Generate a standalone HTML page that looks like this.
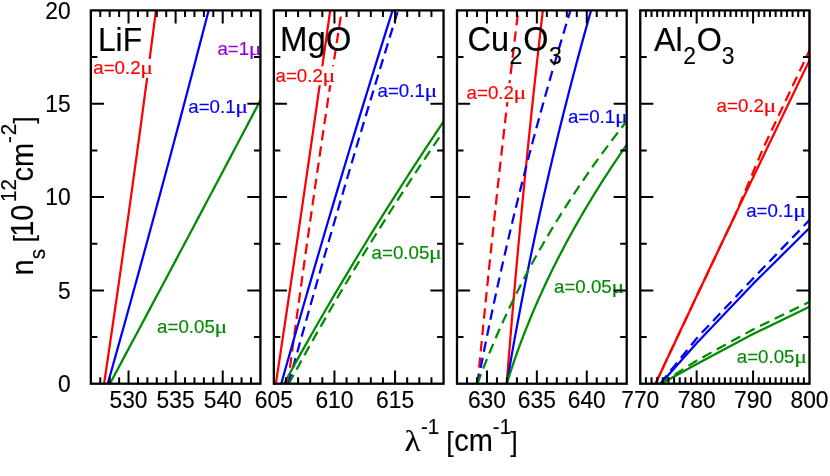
<!DOCTYPE html>
<html><head><meta charset="utf-8"><title>plot</title>
<style>
html,body{margin:0;padding:0;background:#fff;}
svg{display:block;will-change:transform;}
text{font-family:"Liberation Sans",sans-serif;}
.mu{font-family:"Liberation Serif",serif;}
</style></head><body>
<svg width="830" height="476" viewBox="0 0 830 476">
<defs>
<clipPath id="c0"><rect x="90.85" y="10.4" width="169.55" height="373.30"/></clipPath>
<clipPath id="c1"><rect x="273.85" y="10.4" width="169.70" height="373.30"/></clipPath>
<clipPath id="c2"><rect x="457.0" y="10.4" width="169.70" height="373.30"/></clipPath>
<clipPath id="c3"><rect x="640.25" y="10.4" width="169.25" height="373.30"/></clipPath>
</defs>
<g clip-path="url(#c0)" fill="none" stroke="#ff0000" stroke-width="2.25" stroke-linejoin="round">
<path d="M104.04,384.00 L105.48,374.28 L106.92,364.56 L108.36,354.85 L109.79,345.13 L111.21,335.41 L112.63,325.69 L114.04,315.97 L115.45,306.26 L116.86,296.54 L118.25,286.82 L119.65,277.10 L121.04,267.38 L122.42,257.67 L123.80,247.95 L125.18,238.23 L126.55,228.51 L127.91,218.79 L129.27,209.08 L130.62,199.36 L131.97,189.64 L133.32,179.92 L134.66,170.21 L135.99,160.49 L137.32,150.77 L138.65,141.05 L139.97,131.33 L141.28,121.62 L142.59,111.90 L143.90,102.18 L145.20,92.46 L146.49,82.74 L147.78,73.03 L149.07,63.31 L150.35,53.59 L151.63,43.87 L152.90,34.15 L154.16,24.44 L155.42,14.72 L156.68,5.00"/>
</g>
<rect x="92.8" y="58.9" width="60.8" height="18.9" fill="#fff"/>
<text transform="translate(93.3,74.3) scale(1,1.02)" font-size="18.7" fill="#ff0000" stroke="#ff0000" stroke-width="0.15">a=0.2</text>
<text class="mu" transform="translate(140.32,74.3) scale(1.22,1.0)" font-size="19.5" fill="#ff0000" stroke="#ff0000" stroke-width="0.15">μ</text>
<g clip-path="url(#c0)" fill="none" stroke="#0000ff" stroke-width="2.25" stroke-linejoin="round">
<path d="M107.69,384.00 L110.42,374.28 L113.15,364.56 L115.87,354.85 L118.58,345.13 L121.29,335.41 L124.00,325.69 L126.70,315.97 L129.39,306.26 L132.08,296.54 L134.76,286.82 L137.43,277.10 L140.10,267.38 L142.77,257.67 L145.42,247.95 L148.08,238.23 L150.72,228.51 L153.37,218.79 L156.00,209.08 L158.63,199.36 L161.25,189.64 L163.87,179.92 L166.49,170.21 L169.09,160.49 L171.69,150.77 L174.29,141.05 L176.88,131.33 L179.46,121.62 L182.04,111.90 L184.61,102.18 L187.18,92.46 L189.74,82.74 L192.30,73.03 L194.85,63.31 L197.39,53.59 L199.93,43.87 L202.46,34.15 L204.99,24.44 L207.51,14.72 L210.02,5.00"/>
</g>
<rect x="187.8" y="97.6" width="60.8" height="18.9" fill="#fff"/>
<text transform="translate(188.3,113.0) scale(1,1.02)" font-size="18.7" fill="#0000ff" stroke="#0000ff" stroke-width="0.15">a=0.1</text>
<text class="mu" transform="translate(235.32,113.0) scale(1.22,1.0)" font-size="19.5" fill="#0000ff" stroke="#0000ff" stroke-width="0.15">μ</text>
<g clip-path="url(#c0)" fill="none" stroke="#008b00" stroke-width="2.25" stroke-linejoin="round">
<path d="M109.77,384.00 L113.80,376.46 L117.84,368.92 L121.87,361.38 L125.89,353.85 L129.92,346.31 L133.95,338.77 L137.97,331.23 L141.99,323.69 L146.01,316.15 L150.03,308.62 L154.04,301.08 L158.06,293.54 L162.07,286.00 L166.08,278.46 L170.09,270.92 L174.10,263.38 L178.11,255.85 L182.11,248.31 L186.11,240.77 L190.11,233.23 L194.11,225.69 L198.11,218.15 L202.11,210.62 L206.10,203.08 L210.09,195.54 L214.09,188.00 L218.07,180.46 L222.06,172.92 L226.05,165.38 L230.03,157.85 L234.01,150.31 L238.00,142.77 L241.97,135.23 L245.95,127.69 L249.93,120.15 L253.90,112.62 L257.87,105.08 L261.84,97.54 L265.81,90.00"/>
</g>
<rect x="156.6" y="317.6" width="71.2" height="18.9" fill="#fff"/>
<text transform="translate(157.1,333) scale(1,1.02)" font-size="18.7" fill="#008b00" stroke="#008b00" stroke-width="0.15">a=0.05</text>
<text class="mu" transform="translate(214.52,333) scale(1.22,1.0)" font-size="19.5" fill="#008b00" stroke="#008b00" stroke-width="0.15">μ</text>
<rect x="216.9" y="39.5" width="45.2" height="18.9" fill="#fff"/>
<text transform="translate(217.4,54.9) scale(1,1.02)" font-size="18.7" fill="#9400d3" stroke="#9400d3" stroke-width="0.15">a=1</text>
<text class="mu" transform="translate(248.82,54.9) scale(1.22,1.0)" font-size="19.5" fill="#9400d3" stroke="#9400d3" stroke-width="0.15">μ</text>
<g clip-path="url(#c1)" fill="none" stroke="#ff0000" stroke-width="2.25" stroke-linejoin="round">
<path d="M275.80,384.00 L277.27,374.28 L278.74,364.56 L280.20,354.85 L281.67,345.13 L283.12,335.41 L284.58,325.69 L286.03,315.97 L287.48,306.26 L288.93,296.54 L290.37,286.82 L291.81,277.10 L293.25,267.38 L294.68,257.67 L296.12,247.95 L297.55,238.23 L298.97,228.51 L300.39,218.79 L301.81,209.08 L303.23,199.36 L304.65,189.64 L306.06,179.92 L307.46,170.21 L308.87,160.49 L310.27,150.77 L311.67,141.05 L313.07,131.33 L314.46,121.62 L315.85,111.90 L317.24,102.18 L318.62,92.46 L320.00,82.74 L321.38,73.03 L322.76,63.31 L324.13,53.59 L325.50,43.87 L326.87,34.15 L328.23,24.44 L329.59,14.72 L330.95,5.00"/>
<path d="M287.80,384.00 L289.08,374.28 L290.38,364.56 L291.68,354.85 L292.98,345.13 L294.29,335.41 L295.61,325.69 L296.94,315.97 L298.27,306.26 L299.60,296.54 L300.95,286.82 L302.29,277.10 L303.65,267.38 L305.01,257.67 L306.38,247.95 L307.75,238.23 L309.14,228.51 L310.52,218.79 L311.91,209.08 L313.31,199.36 L314.72,189.64 L316.13,179.92 L317.55,170.21 L318.97,160.49 L320.40,150.77 L321.84,141.05 L323.28,131.33 L324.73,121.62 L326.19,111.90 L327.65,102.18 L329.12,92.46 L330.59,82.74 L332.07,73.03 L333.56,63.31 L335.05,53.59 L336.55,43.87 L338.05,34.15 L339.57,24.44 L341.08,14.72 L342.61,5.00" stroke-dasharray="10.4,6.0"/>
</g>
<rect x="275.0" y="66.3" width="60.8" height="18.9" fill="#fff"/>
<text transform="translate(275.5,81.7) scale(1,1.02)" font-size="18.7" fill="#ff0000" stroke="#ff0000" stroke-width="0.15">a=0.2</text>
<text class="mu" transform="translate(322.52,81.7) scale(1.22,1.0)" font-size="19.5" fill="#ff0000" stroke="#ff0000" stroke-width="0.15">μ</text>
<g clip-path="url(#c1)" fill="none" stroke="#0000ff" stroke-width="2.25" stroke-linejoin="round">
<path d="M281.19,384.00 L283.93,374.28 L286.67,364.56 L289.42,354.85 L292.18,345.13 L294.94,335.41 L297.72,325.69 L300.51,315.97 L303.30,306.26 L306.10,296.54 L308.92,286.82 L311.74,277.10 L314.57,267.38 L317.40,257.67 L320.25,247.95 L323.11,238.23 L325.97,228.51 L328.85,218.79 L331.73,209.08 L334.62,199.36 L337.52,189.64 L340.43,179.92 L343.35,170.21 L346.27,160.49 L349.21,150.77 L352.15,141.05 L355.11,131.33 L358.07,121.62 L361.04,111.90 L364.02,102.18 L367.01,92.46 L370.00,82.74 L373.01,73.03 L376.03,63.31 L379.05,53.59 L382.08,43.87 L385.12,34.15 L388.17,24.44 L391.23,14.72 L394.30,5.00"/>
<path d="M288.49,384.00 L291.17,374.28 L293.86,364.56 L296.56,354.85 L299.27,345.13 L301.98,335.41 L304.71,325.69 L307.44,315.97 L310.19,306.26 L312.94,296.54 L315.70,286.82 L318.48,277.10 L321.26,267.38 L324.05,257.67 L326.84,247.95 L329.65,238.23 L332.47,228.51 L335.30,218.79 L338.13,209.08 L340.97,199.36 L343.83,189.64 L346.69,179.92 L349.56,170.21 L352.44,160.49 L355.33,150.77 L358.23,141.05 L361.14,131.33 L364.05,121.62 L366.98,111.90 L369.92,102.18 L372.86,92.46 L375.81,82.74 L378.77,73.03 L381.75,63.31 L384.73,53.59 L387.72,43.87 L390.71,34.15 L393.72,24.44 L396.74,14.72 L399.76,5.00" stroke-dasharray="10.4,6.0"/>
</g>
<rect x="377.0" y="82.0" width="60.8" height="18.9" fill="#fff"/>
<text transform="translate(377.5,97.4) scale(1,1.02)" font-size="18.7" fill="#0000ff" stroke="#0000ff" stroke-width="0.15">a=0.1</text>
<text class="mu" transform="translate(424.52,97.4) scale(1.22,1.0)" font-size="19.5" fill="#0000ff" stroke="#0000ff" stroke-width="0.15">μ</text>
<g clip-path="url(#c1)" fill="none" stroke="#008b00" stroke-width="2.25" stroke-linejoin="round">
<path d="M283.90,384.00 L287.75,376.97 L291.62,369.95 L295.51,362.92 L299.43,355.90 L303.37,348.87 L307.34,341.85 L311.32,334.82 L315.33,327.79 L319.37,320.77 L323.43,313.74 L327.51,306.72 L331.61,299.69 L335.74,292.67 L339.89,285.64 L344.07,278.62 L348.27,271.59 L352.49,264.56 L356.73,257.54 L361.00,250.51 L365.29,243.49 L369.61,236.46 L373.95,229.44 L378.31,222.41 L382.69,215.38 L387.10,208.36 L391.53,201.33 L395.99,194.31 L400.47,187.28 L404.97,180.26 L409.50,173.23 L414.04,166.21 L418.62,159.18 L423.21,152.15 L427.83,145.13 L432.47,138.10 L437.14,131.08 L441.83,124.05 L446.54,117.03 L451.27,110.00"/>
<path d="M288.63,384.00 L292.30,377.23 L296.00,370.46 L299.72,363.69 L303.47,356.92 L307.24,350.15 L311.05,343.38 L314.87,336.62 L318.73,329.85 L322.60,323.08 L326.51,316.31 L330.44,309.54 L334.40,302.77 L338.38,296.00 L342.39,289.23 L346.43,282.46 L350.49,275.69 L354.58,268.92 L358.69,262.15 L362.84,255.38 L367.00,248.62 L371.20,241.85 L375.42,235.08 L379.66,228.31 L383.93,221.54 L388.23,214.77 L392.56,208.00 L396.91,201.23 L401.28,194.46 L405.69,187.69 L410.11,180.92 L414.57,174.15 L419.05,167.38 L423.56,160.62 L428.09,153.85 L432.65,147.08 L437.24,140.31 L441.85,133.54 L446.49,126.77 L451.15,120.00" stroke-dasharray="10.4,6.0"/>
</g>
<rect x="371.1" y="243.6" width="71.2" height="18.9" fill="#fff"/>
<text transform="translate(371.6,259) scale(1,1.02)" font-size="18.7" fill="#008b00" stroke="#008b00" stroke-width="0.15">a=0.05</text>
<text class="mu" transform="translate(429.02,259) scale(1.22,1.0)" font-size="19.5" fill="#008b00" stroke="#008b00" stroke-width="0.15">μ</text>
<g clip-path="url(#c2)" fill="none" stroke="#ff0000" stroke-width="2.25" stroke-linejoin="round">
<path d="M477.57,384.00 L478.50,374.28 L479.44,364.56 L480.38,354.85 L481.33,345.13 L482.29,335.41 L483.25,325.69 L484.22,315.97 L485.20,306.26 L486.18,296.54 L487.17,286.82 L488.17,277.10 L489.18,267.38 L490.19,257.67 L491.21,247.95 L492.24,238.23 L493.27,228.51 L494.31,218.79 L495.36,209.08 L496.41,199.36 L497.48,189.64 L498.54,179.92 L499.62,170.21 L500.70,160.49 L501.79,150.77 L502.89,141.05 L503.99,131.33 L505.10,121.62 L506.22,111.90 L507.35,102.18 L508.48,92.46 L509.62,82.74 L510.76,73.03 L511.92,63.31 L513.08,53.59 L514.24,43.87 L515.42,34.15 L516.60,24.44 L517.79,14.72 L518.98,5.00" stroke-dasharray="10.4,6.0"/>
<path d="M506.70,384.00 L507.46,374.28 L508.22,364.56 L509.00,354.85 L509.79,345.13 L510.59,335.41 L511.39,325.69 L512.21,315.97 L513.04,306.26 L513.87,296.54 L514.72,286.82 L515.57,277.10 L516.44,267.38 L517.32,257.67 L518.20,247.95 L519.10,238.23 L520.00,228.51 L520.91,218.79 L521.84,209.08 L522.77,199.36 L523.72,189.64 L524.67,179.92 L525.63,170.21 L526.61,160.49 L527.59,150.77 L528.58,141.05 L529.58,131.33 L530.60,121.62 L531.62,111.90 L532.65,102.18 L533.69,92.46 L534.74,82.74 L535.80,73.03 L536.87,63.31 L537.95,53.59 L539.04,43.87 L540.14,34.15 L541.25,24.44 L542.37,14.72 L543.50,5.00"/>
</g>
<rect x="466.1" y="83.2" width="60.8" height="18.9" fill="#fff"/>
<text transform="translate(466.6,98.6) scale(1,1.02)" font-size="18.7" fill="#ff0000" stroke="#ff0000" stroke-width="0.15">a=0.2</text>
<text class="mu" transform="translate(513.62,98.6) scale(1.22,1.0)" font-size="19.5" fill="#ff0000" stroke="#ff0000" stroke-width="0.15">μ</text>
<g clip-path="url(#c2)" fill="none" stroke="#0000ff" stroke-width="2.25" stroke-linejoin="round">
<path d="M477.60,384.00 L479.45,374.28 L481.33,364.56 L483.24,354.85 L485.18,345.13 L487.15,335.41 L489.15,325.69 L491.18,315.97 L493.24,306.26 L495.33,296.54 L497.45,286.82 L499.60,277.10 L501.78,267.38 L504.00,257.67 L506.24,247.95 L508.51,238.23 L510.81,228.51 L513.15,218.79 L515.51,209.08 L517.90,199.36 L520.33,189.64 L522.78,179.92 L525.27,170.21 L527.78,160.49 L530.33,150.77 L532.90,141.05 L535.51,131.33 L538.14,121.62 L540.81,111.90 L543.51,102.18 L546.23,92.46 L548.99,82.74 L551.78,73.03 L554.60,63.31 L557.44,53.59 L560.32,43.87 L563.23,34.15 L566.17,24.44 L569.14,14.72 L572.14,5.00" stroke-dasharray="10.4,6.0"/>
<path d="M506.74,384.00 L508.39,374.28 L510.06,364.56 L511.77,354.85 L513.50,345.13 L515.27,335.41 L517.06,325.69 L518.88,315.97 L520.74,306.26 L522.62,296.54 L524.53,286.82 L526.47,277.10 L528.44,267.38 L530.43,257.67 L532.46,247.95 L534.52,238.23 L536.60,228.51 L538.71,218.79 L540.86,209.08 L543.03,199.36 L545.23,189.64 L547.46,179.92 L549.72,170.21 L552.01,160.49 L554.33,150.77 L556.68,141.05 L559.05,131.33 L561.46,121.62 L563.89,111.90 L566.36,102.18 L568.85,92.46 L571.37,82.74 L573.92,73.03 L576.50,63.31 L579.11,53.59 L581.75,43.87 L584.42,34.15 L587.11,24.44 L589.84,14.72 L592.59,5.00"/>
</g>
<rect x="567.4" y="107.2" width="60.8" height="18.9" fill="#fff"/>
<text transform="translate(567.9,122.6) scale(1,1.02)" font-size="18.7" fill="#0000ff" stroke="#0000ff" stroke-width="0.15">a=0.1</text>
<text class="mu" transform="translate(614.92,122.6) scale(1.22,1.0)" font-size="19.5" fill="#0000ff" stroke="#0000ff" stroke-width="0.15">μ</text>
<g clip-path="url(#c2)" fill="none" stroke="#008b00" stroke-width="2.25" stroke-linejoin="round">
<path d="M477.39,384.00 L480.00,376.97 L482.68,369.95 L485.43,362.92 L488.25,355.90 L491.13,348.87 L494.09,341.85 L497.12,334.82 L500.22,327.79 L503.40,320.77 L506.65,313.74 L509.97,306.72 L513.36,299.69 L516.84,292.67 L520.38,285.64 L524.01,278.62 L527.71,271.59 L531.49,264.56 L535.35,257.54 L539.28,250.51 L543.30,243.49 L547.40,236.46 L551.58,229.44 L555.84,222.41 L560.18,215.38 L564.61,208.36 L569.12,201.33 L573.71,194.31 L578.39,187.28 L583.16,180.26 L588.01,173.23 L592.94,166.21 L597.97,159.18 L603.08,152.15 L608.29,145.13 L613.58,138.10 L618.96,131.08 L624.43,124.05 L630.00,117.03 L635.66,110.00" stroke-dasharray="10.4,6.0"/>
<path d="M506.69,384.00 L508.68,377.62 L510.74,371.23 L512.86,364.85 L515.05,358.46 L517.31,352.08 L519.63,345.69 L522.02,339.31 L524.47,332.92 L527.00,326.54 L529.59,320.15 L532.24,313.77 L534.96,307.38 L537.75,301.00 L540.61,294.62 L543.53,288.23 L546.52,281.85 L549.57,275.46 L552.69,269.08 L555.88,262.69 L559.13,256.31 L562.45,249.92 L565.84,243.54 L569.30,237.15 L572.82,230.77 L576.40,224.38 L580.06,218.00 L583.78,211.62 L587.56,205.23 L591.42,198.85 L595.34,192.46 L599.32,186.08 L603.37,179.69 L607.49,173.31 L611.68,166.92 L615.93,160.54 L620.25,154.15 L624.64,147.77 L629.09,141.38 L633.61,135.00"/>
</g>
<rect x="553.5" y="277.6" width="71.2" height="18.9" fill="#fff"/>
<text transform="translate(554,293) scale(1,1.02)" font-size="18.7" fill="#008b00" stroke="#008b00" stroke-width="0.15">a=0.05</text>
<text class="mu" transform="translate(611.42,293) scale(1.22,1.0)" font-size="19.5" fill="#008b00" stroke="#008b00" stroke-width="0.15">μ</text>
<g clip-path="url(#c3)" fill="none" stroke="#ff0000" stroke-width="2.25" stroke-linejoin="round">
<path d="M655.37,384.00 L659.50,375.18 L663.63,366.36 L667.77,357.54 L671.91,348.72 L676.06,339.90 L680.21,331.08 L684.36,322.26 L688.52,313.44 L692.68,304.62 L696.85,295.79 L701.02,286.97 L705.19,278.15 L709.37,269.33 L713.55,260.51 L717.73,251.69 L721.92,242.87 L726.11,234.05 L730.31,225.23 L734.51,216.41 L738.71,207.59 L742.92,198.77 L747.13,189.95 L751.35,181.13 L755.57,172.31 L759.79,163.49 L764.02,154.67 L768.25,145.85 L772.49,137.03 L776.73,128.21 L780.97,119.38 L785.22,110.56 L789.47,101.74 L793.72,92.92 L797.98,84.10 L802.24,75.28 L806.51,66.46 L810.78,57.64 L815.05,48.82 L819.33,40.00"/>
<path d="M655.37,384.00 L659.50,375.18 L663.63,366.36 L667.77,357.54 L671.91,348.72 L676.06,339.90 L680.21,331.08 L684.36,322.26 L688.52,313.44 L692.68,304.62 L696.85,295.79 L701.02,286.97 L705.19,278.15 L709.37,269.33 L713.55,260.51 L717.73,251.69 L721.92,242.87 L726.11,234.05 L730.31,225.23 L734.51,216.41 L738.28,207.59 L741.97,198.77 L745.67,189.95 L749.37,181.13 L753.07,172.31 L756.78,163.49 L760.49,154.67 L764.31,145.85 L768.47,137.03 L772.63,128.21 L776.79,119.38 L780.96,110.56 L785.13,101.74 L789.31,92.92 L793.49,84.10 L797.67,75.28 L801.86,66.46 L806.05,57.64 L810.24,48.82 L814.44,40.00" stroke-dasharray="10.4,6.0"/>
</g>
<rect x="716.1" y="96.6" width="60.8" height="18.9" fill="#fff"/>
<text transform="translate(716.6,112) scale(1,1.02)" font-size="18.7" fill="#ff0000" stroke="#ff0000" stroke-width="0.15">a=0.2</text>
<text class="mu" transform="translate(763.62,112) scale(1.22,1.0)" font-size="19.5" fill="#ff0000" stroke="#ff0000" stroke-width="0.15">μ</text>
<g clip-path="url(#c3)" fill="none" stroke="#0000ff" stroke-width="2.25" stroke-linejoin="round">
<path d="M660.80,383.60 L696.80,343.10 L753.50,283.40 L810.00,227.50 L818.00,219.58"/>
<path d="M660.30,383.60 L696.80,338.20 L753.50,278.00 L810.00,219.50 L818.00,211.22" stroke-dasharray="10.4,6.0"/>
</g>
<rect x="745.7" y="201.2" width="60.8" height="18.9" fill="#fff"/>
<text transform="translate(746.2,216.6) scale(1,1.02)" font-size="18.7" fill="#0000ff" stroke="#0000ff" stroke-width="0.15">a=0.1</text>
<text class="mu" transform="translate(793.22,216.6) scale(1.22,1.0)" font-size="19.5" fill="#0000ff" stroke="#0000ff" stroke-width="0.15">μ</text>
<g clip-path="url(#c3)" fill="none" stroke="#008b00" stroke-width="2.25" stroke-linejoin="round">
<path d="M661.50,383.60 L696.80,364.00 L753.50,333.80 L810.00,306.40 L818.00,302.52"/>
<path d="M660.80,383.60 L696.80,360.50 L753.50,329.20 L810.00,301.60 L818.00,297.69" stroke-dasharray="10.4,6.0"/>
</g>
<rect x="736.3" y="347.6" width="71.2" height="18.9" fill="#fff"/>
<text transform="translate(736.8,363) scale(1,1.02)" font-size="18.7" fill="#008b00" stroke="#008b00" stroke-width="0.15">a=0.05</text>
<text class="mu" transform="translate(794.22,363) scale(1.22,1.0)" font-size="19.5" fill="#008b00" stroke="#008b00" stroke-width="0.15">μ</text>
<g stroke-width="2.7" opacity="0.5" fill="none"><path d="M809.5,301.6V227.5" stroke="#008b00"/><path d="M809.5,227.5V59.4" stroke="#0000ff"/><path d="M809.5,59.4V10.4" stroke="#ff0000"/></g>
<g stroke="#000" fill="none">
<path d="M100.27,383.7v-6.5M100.27,10.4v6.5M109.69,383.7v-6.5M109.69,10.4v6.5M119.11,383.7v-6.5M119.11,10.4v6.5M128.53,383.7v-13.1M128.53,10.4v13.1M137.95,383.7v-6.5M137.95,10.4v6.5M147.37,383.7v-6.5M147.37,10.4v6.5M156.79,383.7v-6.5M156.79,10.4v6.5M166.21,383.7v-6.5M166.21,10.4v6.5M175.62,383.7v-13.1M175.62,10.4v13.1M185.04,383.7v-6.5M185.04,10.4v6.5M194.46,383.7v-6.5M194.46,10.4v6.5M203.88,383.7v-6.5M203.88,10.4v6.5M213.30,383.7v-6.5M213.30,10.4v6.5M222.72,383.7v-13.1M222.72,10.4v13.1M232.14,383.7v-6.5M232.14,10.4v6.5M241.56,383.7v-6.5M241.56,10.4v6.5M250.98,383.7v-6.5M250.98,10.4v6.5M90.85,337.04h6.5M260.4,337.04h-6.5M90.85,290.38h13.1M260.4,290.38h-13.1M90.85,243.71h6.5M260.4,243.71h-6.5M90.85,197.05h13.1M260.4,197.05h-13.1M90.85,150.39h6.5M260.4,150.39h-6.5M90.85,103.72h13.1M260.4,103.72h-13.1M90.85,57.06h6.5M260.4,57.06h-6.5" stroke-width="2.0"/>
<rect x="90.85" y="10.4" width="169.55" height="373.30" stroke-width="2.3"/>
<path d="M285.97,383.7v-6.5M285.97,10.4v6.5M298.09,383.7v-6.5M298.09,10.4v6.5M310.21,383.7v-6.5M310.21,10.4v6.5M322.34,383.7v-6.5M322.34,10.4v6.5M334.46,383.7v-13.1M334.46,10.4v13.1M346.58,383.7v-6.5M346.58,10.4v6.5M358.70,383.7v-6.5M358.70,10.4v6.5M370.82,383.7v-6.5M370.82,10.4v6.5M382.94,383.7v-6.5M382.94,10.4v6.5M395.06,383.7v-13.1M395.06,10.4v13.1M407.19,383.7v-6.5M407.19,10.4v6.5M419.31,383.7v-6.5M419.31,10.4v6.5M431.43,383.7v-6.5M431.43,10.4v6.5M273.85,337.04h6.5M443.55,337.04h-6.5M273.85,290.38h13.1M443.55,290.38h-13.1M273.85,243.71h6.5M443.55,243.71h-6.5M273.85,197.05h13.1M443.55,197.05h-13.1M273.85,150.39h6.5M443.55,150.39h-6.5M273.85,103.72h13.1M443.55,103.72h-13.1M273.85,57.06h6.5M443.55,57.06h-6.5" stroke-width="2.0"/>
<rect x="273.85" y="10.4" width="169.70" height="373.30" stroke-width="2.3"/>
<path d="M466.98,383.7v-6.5M466.98,10.4v6.5M476.96,383.7v-6.5M476.96,10.4v6.5M486.95,383.7v-13.1M486.95,10.4v13.1M496.93,383.7v-6.5M496.93,10.4v6.5M506.91,383.7v-6.5M506.91,10.4v6.5M516.89,383.7v-6.5M516.89,10.4v6.5M526.88,383.7v-6.5M526.88,10.4v6.5M536.86,383.7v-13.1M536.86,10.4v13.1M546.84,383.7v-6.5M546.84,10.4v6.5M556.82,383.7v-6.5M556.82,10.4v6.5M566.81,383.7v-6.5M566.81,10.4v6.5M576.79,383.7v-6.5M576.79,10.4v6.5M586.77,383.7v-13.1M586.77,10.4v13.1M596.75,383.7v-6.5M596.75,10.4v6.5M606.74,383.7v-6.5M606.74,10.4v6.5M616.72,383.7v-6.5M616.72,10.4v6.5M457.0,337.04h6.5M626.7,337.04h-6.5M457.0,290.38h13.1M626.7,290.38h-13.1M457.0,243.71h6.5M626.7,243.71h-6.5M457.0,197.05h13.1M626.7,197.05h-13.1M457.0,150.39h6.5M626.7,150.39h-6.5M457.0,103.72h13.1M626.7,103.72h-13.1M457.0,57.06h6.5M626.7,57.06h-6.5" stroke-width="2.0"/>
<rect x="457.0" y="10.4" width="169.70" height="373.30" stroke-width="2.3"/>
<path d="M645.89,383.7v-6.5M645.89,10.4v6.5M651.53,383.7v-6.5M651.53,10.4v6.5M657.17,383.7v-6.5M657.17,10.4v6.5M662.82,383.7v-6.5M662.82,10.4v6.5M668.46,383.7v-6.5M668.46,10.4v6.5M674.10,383.7v-6.5M674.10,10.4v6.5M679.74,383.7v-6.5M679.74,10.4v6.5M685.38,383.7v-6.5M685.38,10.4v6.5M691.02,383.7v-6.5M691.02,10.4v6.5M696.67,383.7v-13.1M696.67,10.4v13.1M702.31,383.7v-6.5M702.31,10.4v6.5M707.95,383.7v-6.5M707.95,10.4v6.5M713.59,383.7v-6.5M713.59,10.4v6.5M719.23,383.7v-6.5M719.23,10.4v6.5M724.88,383.7v-6.5M724.88,10.4v6.5M730.52,383.7v-6.5M730.52,10.4v6.5M736.16,383.7v-6.5M736.16,10.4v6.5M741.80,383.7v-6.5M741.80,10.4v6.5M747.44,383.7v-6.5M747.44,10.4v6.5M753.08,383.7v-13.1M753.08,10.4v13.1M758.73,383.7v-6.5M758.73,10.4v6.5M764.37,383.7v-6.5M764.37,10.4v6.5M770.01,383.7v-6.5M770.01,10.4v6.5M775.65,383.7v-6.5M775.65,10.4v6.5M781.29,383.7v-6.5M781.29,10.4v6.5M786.93,383.7v-6.5M786.93,10.4v6.5M792.58,383.7v-6.5M792.58,10.4v6.5M798.22,383.7v-6.5M798.22,10.4v6.5M803.86,383.7v-6.5M803.86,10.4v6.5M640.25,337.04h6.5M809.5,337.04h-6.5M640.25,290.38h13.1M809.5,290.38h-13.1M640.25,243.71h6.5M809.5,243.71h-6.5M640.25,197.05h13.1M809.5,197.05h-13.1M640.25,150.39h6.5M809.5,150.39h-6.5M640.25,103.72h13.1M809.5,103.72h-13.1M640.25,57.06h6.5M809.5,57.06h-6.5" stroke-width="2.0"/>
<rect x="640.25" y="10.4" width="169.25" height="373.30" stroke-width="2.3"/>
</g>
<text transform="translate(97.9,50.5) scale(1,1.055)" font-size="31.8" fill="#000" stroke="#000" stroke-width="0.15">LiF</text>
<text transform="translate(279.9,50.5) scale(1,1.055)" font-size="33.0" fill="#000" stroke="#000" stroke-width="0.15">MgO</text>
<text transform="translate(467.5,50.5) scale(1,1.055)" font-size="32.5" fill="#000" stroke="#000" stroke-width="0.15">Cu<tspan dx="0.6" dy="12.6" font-size="23.1">2</tspan><tspan dx="0.8" dy="-12.6">O</tspan><tspan dx="0.5" dy="12.6" font-size="23.1">3</tspan></text>
<text transform="translate(654,50.5) scale(1,1.055)" font-size="32.3" fill="#000" stroke="#000" stroke-width="0.15">Al<tspan dx="0.6" dy="12.6" font-size="22.9">2</tspan><tspan dx="0.8" dy="-12.6">O</tspan><tspan dx="-0.2" dy="12.6" font-size="22.9">3</tspan></text>
<text transform="translate(128.53,407.6) scale(1,1.055)" font-size="22.8" fill="#000" stroke="#000" stroke-width="0.15" text-anchor="middle">530</text>
<text transform="translate(175.62,407.6) scale(1,1.055)" font-size="22.8" fill="#000" stroke="#000" stroke-width="0.15" text-anchor="middle">535</text>
<text transform="translate(222.72,407.6) scale(1,1.055)" font-size="22.8" fill="#000" stroke="#000" stroke-width="0.15" text-anchor="middle">540</text>
<text transform="translate(273.85,407.6) scale(1,1.055)" font-size="22.8" fill="#000" stroke="#000" stroke-width="0.15" text-anchor="middle">605</text>
<text transform="translate(334.46,407.6) scale(1,1.055)" font-size="22.8" fill="#000" stroke="#000" stroke-width="0.15" text-anchor="middle">610</text>
<text transform="translate(395.06,407.6) scale(1,1.055)" font-size="22.8" fill="#000" stroke="#000" stroke-width="0.15" text-anchor="middle">615</text>
<text transform="translate(486.95,407.6) scale(1,1.055)" font-size="22.8" fill="#000" stroke="#000" stroke-width="0.15" text-anchor="middle">630</text>
<text transform="translate(536.86,407.6) scale(1,1.055)" font-size="22.8" fill="#000" stroke="#000" stroke-width="0.15" text-anchor="middle">635</text>
<text transform="translate(586.77,407.6) scale(1,1.055)" font-size="22.8" fill="#000" stroke="#000" stroke-width="0.15" text-anchor="middle">640</text>
<text transform="translate(640.25,407.6) scale(1,1.055)" font-size="22.8" fill="#000" stroke="#000" stroke-width="0.15" text-anchor="middle">770</text>
<text transform="translate(696.67,407.6) scale(1,1.055)" font-size="22.8" fill="#000" stroke="#000" stroke-width="0.15" text-anchor="middle">780</text>
<text transform="translate(753.08,407.6) scale(1,1.055)" font-size="22.8" fill="#000" stroke="#000" stroke-width="0.15" text-anchor="middle">790</text>
<text transform="translate(809.5,407.6) scale(1,1.055)" font-size="22.8" fill="#000" stroke="#000" stroke-width="0.15" text-anchor="middle">800</text>
<text transform="translate(70.6,392.0) scale(1,1.055)" font-size="22.8" fill="#000" stroke="#000" stroke-width="0.15" text-anchor="end">0</text>
<text transform="translate(70.6,298.68) scale(1,1.055)" font-size="22.8" fill="#000" stroke="#000" stroke-width="0.15" text-anchor="end">5</text>
<text transform="translate(70.6,205.35) scale(1,1.055)" font-size="22.8" fill="#000" stroke="#000" stroke-width="0.15" text-anchor="end">10</text>
<text transform="translate(70.6,112.02) scale(1,1.055)" font-size="22.8" fill="#000" stroke="#000" stroke-width="0.15" text-anchor="end">15</text>
<text transform="translate(70.6,18.7) scale(1,1.055)" font-size="22.8" fill="#000" stroke="#000" stroke-width="0.15" text-anchor="end">20</text>
<text transform="translate(33,275.5) rotate(-90) scale(1,1.055)" font-size="29.0" fill="#000" stroke="#000" stroke-width="0.15">n<tspan dy="10.9" font-size="20.6">s</tspan><tspan dy="-10.9" dx="6.5" font-size="27.0">[</tspan><tspan dx="-1.7">10</tspan><tspan dy="-16.3" dx="2.5" font-size="20.6">12</tspan><tspan dy="16.3" dx="-2.5">cm</tspan><tspan dy="-16.3" dx="0" font-size="20.6">-</tspan><tspan dx="0.9" font-size="20.6">2</tspan><tspan dy="16.3" dx="-0.1" font-size="27.0">]</tspan></text>
<text class="mu" transform="translate(404.6,450.9) scale(1.15,1.0)" font-size="29.0" fill="#000" stroke="#000" stroke-width="0.15">λ</text>
<text transform="translate(421.0,450.9) scale(1,1.055)" font-size="29.0" fill="#000" stroke="#000" stroke-width="0.15"><tspan dy="-16.3" font-size="20.6">-1</tspan><tspan dy="16.3" dx="7.0" font-size="27.0">[</tspan><tspan dx="0.4">cm</tspan><tspan dy="-16.3" font-size="20.6">-1</tspan><tspan dy="16.3" dx="-0.8" font-size="27.0">]</tspan></text>
</svg></body></html>
